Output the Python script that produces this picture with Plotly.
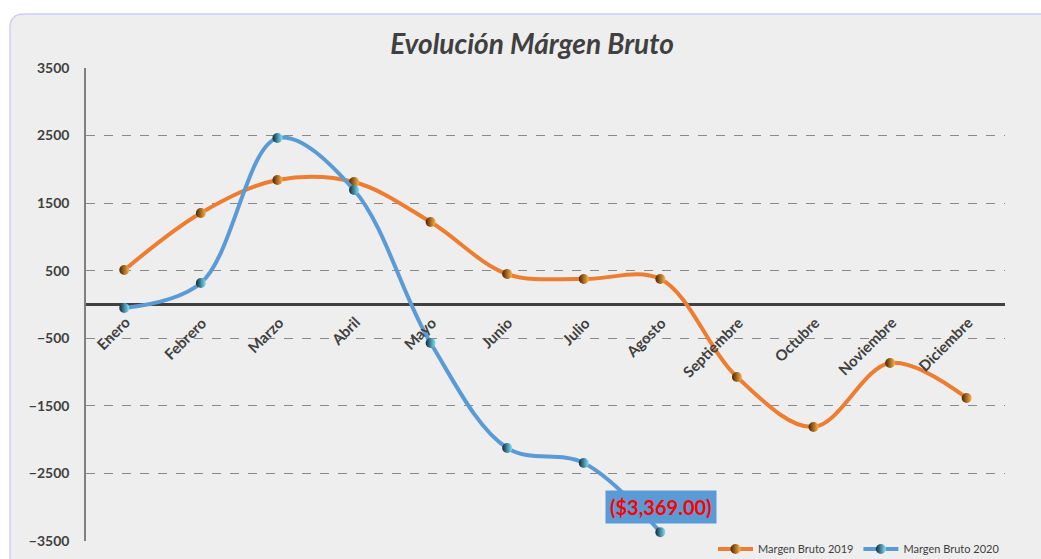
import plotly.graph_objects as go

meses = ["Enero", "Febrero", "Marzo", "Abril", "Mayo", "Junio", "Julio",
         "Agosto", "Septiembre", "Octubre", "Noviembre", "Diciembre"]
margen_2019 = [510, 1354, 1842, 1812, 1220, 451, 377, 377, -1072, -1812, -865, -1383]
margen_2020 = [-52, 318, 2463, 1694, -570, -2123, -2345, -3369]
y_ticks = [-3500, -2500, -1500, -500, 500, 1500, 2500, 3500]
etiqueta = "($3,369.00)"

FONT = "Lato"
W, H = 1041, 559
L, R, T, B = 86, 1005, 68, 541
pw, ph = R - L, B - T


def px(x):
    return (x - L) / pw


def py(y):
    return (B - y) / ph


fig = go.Figure()

fig.add_trace(go.Scatter(
    x=meses, y=margen_2019, name="Margen Bruto 2019",
    mode="lines+markers", line=dict(color="#ED7D31", width=4, shape="spline"),
    marker=dict(size=10, color="#4a2400",
                gradient=dict(type="horizontal", color="#FFB347"),
                line=dict(width=0)),
))
fig.add_trace(go.Scatter(
    x=meses[:len(margen_2020)], y=margen_2020, name="Margen Bruto 2020",
    mode="lines+markers", line=dict(color="#5B9BD5", width=4, shape="spline"),
    marker=dict(size=10, color="#0f2838",
                gradient=dict(type="horizontal", color="#7FE6FF"),
                line=dict(width=0)),
))

# background rounded panel
x0, x1 = px(10), px(1060)
y0, y1 = py(580), py(14)
rx, ry = 14 / pw, 14 / ph
path = (f"M {x0+rx},{y1} L {x1},{y1} L {x1},{y0} L {x0},{y0} L {x0},{y1-ry} "
        f"Q {x0},{y1} {x0+rx},{y1} Z")
fig.add_shape(type="path", path=path, xref="paper", yref="paper",
              fillcolor="#EEEEEE", line=dict(color="#CFCFF2", width=1.5),
              layer="below")

annotations = []
for m in meses:
    annotations.append(dict(
        x=m, y=0, xref="x", yref="y", text=m, showarrow=False,
        textangle=-45, xanchor="right", yanchor="top",
        xshift=12, yshift=-6,
        font=dict(family=FONT, size=15, color="#404040", weight="bold"),
    ))
annotations.append(dict(
    x=meses[len(margen_2020) - 1], y=margen_2020[-1], xref="x", yref="y",
    text=etiqueta, showarrow=False, yshift=25, xshift=1,
    bgcolor="#5B9BD5", borderpad=4,
    font=dict(family=FONT, size=20, color="#FF0000", weight="bold"),
))

fig.update_layout(
    width=W, height=H,
    margin=dict(l=L, r=W - R, t=T, b=H - B, autoexpand=False),
    paper_bgcolor="white",
    plot_bgcolor="rgba(0,0,0,0)",
    title=dict(text="<i>Evolución Márgen Bruto</i>", x=532 / W, xanchor="center",
               xref="container", y=1 - 44 / H, yanchor="middle", yref="container",
               font=dict(family=FONT, size=28, color="#404040", weight="bold")),
    xaxis=dict(type="category", categoryarray=meses, categoryorder="array",
               range=[-0.5, 11.5], showticklabels=False, showgrid=False,
               zeroline=False, showline=False),
    yaxis=dict(range=[-3500, 3500], tickvals=y_ticks,
               tickfont=dict(family=FONT, size=14, color="#404040", weight="bold"),
               showgrid=True, gridcolor="#8a8a8a", griddash="dash", gridwidth=1,
               zeroline=True, zerolinecolor="#404040", zerolinewidth=3,
               showline=True, linecolor="#808080", linewidth=1.5,
               ticks="", ticklabelstandoff=12),
    legend=dict(orientation="h", x=1.0, xanchor="right", y=py(549), yanchor="middle",
                font=dict(family=FONT, size=11, color="#404040"),
                bgcolor="rgba(0,0,0,0)", itemwidth=35, tracegroupgap=0),
    annotations=annotations,
    showlegend=True,
)

fig.write_html("out.html", config={"displayModeBar": False},
               post_script="document.body.style.margin='0';document.body.style.overflow='hidden';")
